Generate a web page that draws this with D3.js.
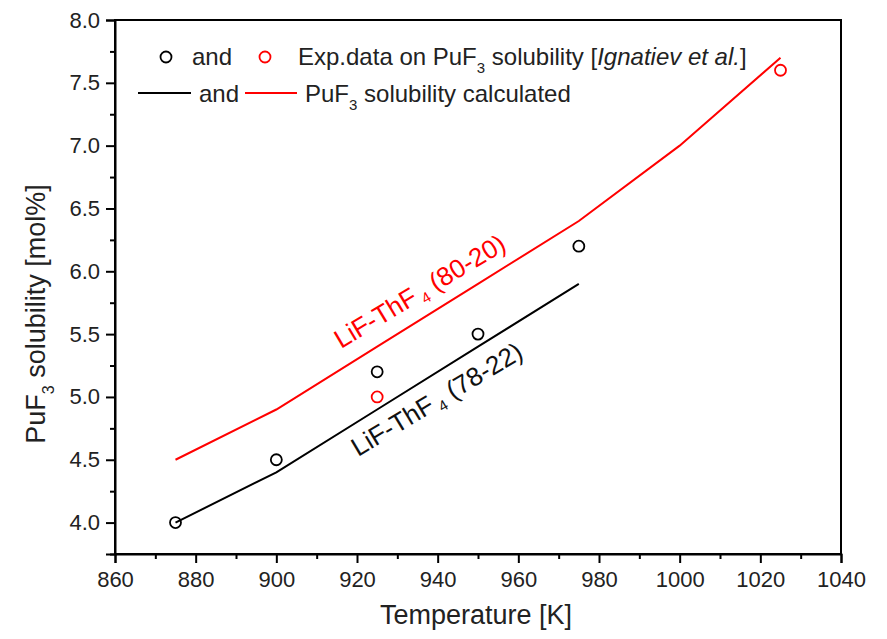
<!DOCTYPE html>
<html><head><meta charset="utf-8">
<script src="https://cdn.jsdelivr.net/npm/d3@7"></script>
<style>body{margin:0;background:#fff}svg{font-family:"Liberation Sans",Arial,sans-serif}</style>
</head><body><svg id="c" width="887" height="639"></svg>
<script>
const calcT_7822 = [875, 900, 925, 950, 975];
const calc_7822 = [4.0, 4.4, 4.9, 5.4, 5.9];
const calcT_8020 = [875, 900, 925, 950, 975, 1000, 1025];
const calc_8020 = [4.5, 4.9, 5.4, 5.9, 6.4, 7.0, 7.7];
const expT_black = [875, 900, 925, 950, 975];
const exp_black = [4.0, 4.5, 5.2, 5.5, 6.2];
const expT_red = [925, 1025];
const exp_red = [5.0, 7.6];
const xTicks = [860, 880, 900, 920, 940, 960, 980, 1000, 1020, 1040];
const yTicks = [4.0, 4.5, 5.0, 5.5, 6.0, 6.5, 7.0, 7.5, 8.0];

const FONT = '"Liberation Sans",Arial,sans-serif';
const svg = d3.select("#c");
const L = 115, R = 841, T = 20, B = 554;
const x = d3.scaleLinear().domain([860, 1040]).range([L, R]);
const y = d3.scaleLinear().domain([3.75, 8.0]).range([B, T]);

// frame
svg.append("rect").attr("x", L).attr("y", T).attr("width", R - L).attr("height", B - T)
  .attr("fill", "none").attr("stroke", "#000").attr("stroke-width", 2);

// minor ticks
const xMinor = d3.range(870, 1040, 20);
const yMinor = d3.range(3.75, 8.0, 0.5);
const gx = svg.append("g").attr("transform", `translate(0,${B})`)
  .call(d3.axisBottom(x).tickValues(xTicks).tickFormat(d3.format("d")).tickSize(9).tickPadding(8));
svg.append("g").attr("transform", `translate(0,${B})`)
  .call(d3.axisBottom(x).tickValues(xMinor).tickFormat("").tickSize(5))
  .call(g => g.select(".domain").remove()).selectAll("line").attr("stroke-width", 2);
const gy = svg.append("g").attr("transform", `translate(${L},0)`)
  .call(d3.axisLeft(y).tickValues(yTicks).tickFormat(d3.format(".1f")).tickSize(9).tickPadding(6));
svg.append("g").attr("transform", `translate(${L},0)`)
  .call(d3.axisLeft(y).tickValues(yMinor).tickFormat("").tickSize(5))
  .call(g => g.select(".domain").remove()).selectAll("line").attr("stroke-width", 2);
[gx, gy].forEach(g => {
  g.attr("font-size", null).attr("font-family", null);
  g.select(".domain").attr("stroke-width", 2);
  g.selectAll(".tick line").attr("stroke-width", 2);
  g.selectAll("text").style("font-size", "22px").attr("fill", "#222").style("font-family", FONT);
});

// lines
const line = d3.line().x(d => x(d[0])).y(d => y(d[1]));
svg.append("path").datum(calcT_7822.map((t, i) => [t, calc_7822[i]]))
  .attr("d", line).attr("fill", "none").attr("stroke", "#000").attr("stroke-width", 2);
svg.append("path").datum(calcT_8020.map((t, i) => [t, calc_8020[i]]))
  .attr("d", line).attr("fill", "none").attr("stroke", "#ff0000").attr("stroke-width", 2);

// points
svg.selectAll("circle.b").data(expT_black.map((t, i) => [t, exp_black[i]])).enter().append("circle")
  .attr("cx", d => x(d[0])).attr("cy", d => y(d[1])).attr("r", 5.5)
  .attr("fill", "none").attr("stroke", "#000").attr("stroke-width", 1.8);
svg.selectAll("circle.r").data(expT_red.map((t, i) => [t, exp_red[i]])).enter().append("circle")
  .attr("cx", d => x(d[0])).attr("cy", d => y(d[1])).attr("r", 5.5)
  .attr("fill", "none").attr("stroke", "#ff0000").attr("stroke-width", 1.8);

// axis titles
svg.append("text").attr("x", 476).attr("y", 624).attr("text-anchor", "middle")
  .style("font-size", "27px").attr("fill", "#222").text("Temperature [K]");
const yt = svg.append("text").attr("transform", `translate(45,314) rotate(-90)`)
  .attr("text-anchor", "middle").style("font-size", "27px").attr("fill", "#222");
yt.append("tspan").text("PuF");
yt.append("tspan").style("font-size", "16px").attr("dy", 9).text("3");
yt.append("tspan").attr("dy", -9).text(" solubility [mol%]");

// legend
const lg = svg.append("g").style("font-size", "24px").attr("fill", "#222");
lg.append("circle").attr("cx", 166).attr("cy", 57).attr("r", 5.5).attr("fill", "none").attr("stroke", "#000").attr("stroke-width", 1.8);
lg.append("text").attr("x", 192).attr("y", 65).text("and");
lg.append("circle").attr("cx", 265).attr("cy", 57).attr("r", 5.5).attr("fill", "none").attr("stroke", "#ff0000").attr("stroke-width", 1.8);
const t1 = lg.append("text").attr("x", 298).attr("y", 65);
t1.append("tspan").text("Exp.data on PuF");
t1.append("tspan").style("font-size", "15px").attr("dy", 8).text("3");
t1.append("tspan").attr("dy", -8).text(" solubility [");
t1.append("tspan").attr("font-style", "italic").text("Ignatiev et al.");
t1.append("tspan").text("]");
lg.append("line").attr("x1", 138).attr("x2", 191).attr("y1", 93).attr("y2", 93).attr("stroke", "#000").attr("stroke-width", 2);
lg.append("text").attr("x", 199).attr("y", 102).text("and");
lg.append("line").attr("x1", 245).attr("x2", 297).attr("y1", 93).attr("y2", 93).attr("stroke", "#ff0000").attr("stroke-width", 2);
const t2 = lg.append("text").attr("x", 305).attr("y", 102);
t2.append("tspan").text("PuF");
t2.append("tspan").style("font-size", "15px").attr("dy", 8).text("3");
t2.append("tspan").attr("dy", -8).text(" solubility calculated");

// annotations
const a1 = svg.append("text").attr("transform", "translate(341,349) rotate(-31)")
  .style("font-size", "26px").attr("fill", "#ff0000");
a1.append("tspan").text("LiF-ThF");
a1.append("tspan").style("font-size", "15px").attr("dy", 5).text(" 4");
a1.append("tspan").attr("dy", -5).text(" (80-20)");
const a2 = svg.append("text").attr("transform", "translate(358,457) rotate(-31)")
  .style("font-size", "26px").attr("fill", "#111");
a2.append("tspan").text("LiF-ThF");
a2.append("tspan").style("font-size", "15px").attr("dy", 5).text(" 4");
a2.append("tspan").attr("dy", -5).text(" (78-22)");
</script></body></html>
